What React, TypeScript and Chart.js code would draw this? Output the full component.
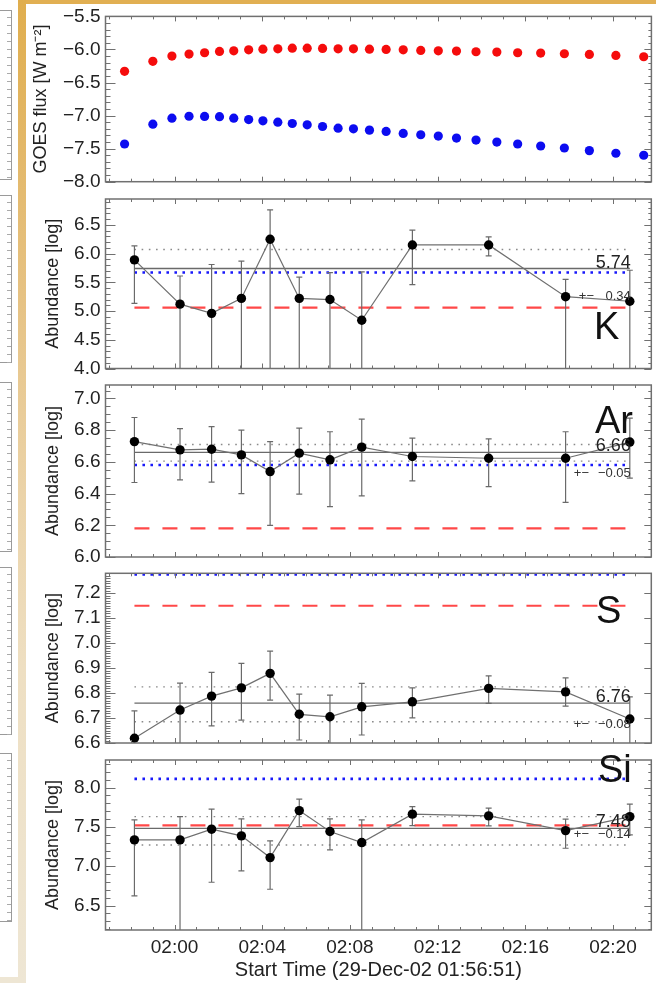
import React, { useEffect, useRef } from 'react';
import { Chart, registerables } from 'chart.js';

Chart.register(...registerables);

const FONT = '"Liberation Sans", Arial, Helvetica, sans-serif';
const W = 656;
const H = 983;

// ---------------- data ----------------
// time axis: minutes after 02:00 UT (start 01:56:51)
const xTickValues = [0, 4, 8, 12, 16, 20];
const xTickLabels = ['02:00', '02:04', '02:08', '02:12', '02:16', '02:20'];
const xTitle = 'Start Time (29-Dec-02 01:56:51)';

const goesTime = [-2.28, -0.99, -0.12, 0.66, 1.37, 2.05, 2.7, 3.38, 4.03, 4.71, 5.37, 6.05, 6.75, 7.46, 8.16, 8.89, 9.65, 10.43, 11.23, 12.03, 12.86, 13.75, 14.7, 15.65, 16.7, 17.78, 18.92, 20.13, 21.4];
const goesLong = [-6.33, -6.18, -6.1, -6.07, -6.05, -6.03, -6.02, -6.005, -5.995, -5.99, -5.98, -5.98, -5.985, -5.99, -5.99, -5.995, -6.0, -6.005, -6.015, -6.02, -6.025, -6.035, -6.04, -6.05, -6.055, -6.065, -6.075, -6.09, -6.11];
const goesShort = [-7.43, -7.13, -7.04, -7.01, -7.013, -7.017, -7.04, -7.06, -7.08, -7.1, -7.12, -7.14, -7.165, -7.19, -7.2, -7.22, -7.24, -7.27, -7.29, -7.31, -7.34, -7.37, -7.4, -7.43, -7.46, -7.49, -7.53, -7.57, -7.6];
const goesTicks = [-8.0, -7.5, -7.0, -6.5, -6.0, -5.5];

const obsTime = [-1.83, 0.25, 1.69, 3.05, 4.36, 5.69, 7.09, 8.54, 10.85, 14.33, 17.84, 20.77];

const kAbund = [5.89, 5.12, 4.96, 5.22, 6.25, 5.22, 5.2, 4.84, 6.15, 6.15, 5.25, 5.17];
const kUpper = [6.135, 5.61, 5.81, 5.87, 6.76, 5.59, 5.67, 5.68, 6.41, 6.29, 5.55, 5.71];
const kLower = [5.134, null, null, null, null, null, null, null, 5.46, 5.96, null, null];
const kTicks = [4.0, 4.5, 5.0, 5.5, 6.0, 6.5];

const arAbund = [6.728, 6.676, 6.68, 6.644, 6.539, 6.655, 6.613, 6.693, 6.634, 6.623, 6.623, 6.725];
const arUpper = [6.88, 6.81, 6.823, 6.8, 6.728, 6.813, 6.79, 6.87, 6.75, 6.745, 6.79, 6.876];
const arLower = [6.47, 6.486, 6.472, 6.4, 6.2, 6.396, 6.318, 6.385, 6.48, 6.444, 6.345, 6.497];
const arTicks = [6.0, 6.2, 6.4, 6.6, 6.8, 7.0];

const sAbund = [6.619, 6.732, 6.788, 6.821, 6.879, 6.715, 6.705, 6.745, 6.765, 6.819, 6.805, 6.696];
const sUpper = [6.729, 6.84, 6.883, 6.919, 6.968, 6.796, 6.792, 6.839, 6.821, 6.869, 6.861, 6.785];
const sLower = [6.47, 6.589, 6.669, 6.692, 6.772, 6.612, 6.597, 6.632, 6.701, 6.759, 6.748, 6.584];
const sTicks = [6.6, 6.7, 6.8, 6.9, 7.0, 7.1, 7.2];

const siAbund = [7.335, 7.335, 7.471, 7.386, 7.11, 7.707, 7.441, 7.301, 7.662, 7.64, 7.453, 7.631];
const siUpper = [7.589, 7.631, 7.725, 7.602, 7.322, 7.852, 7.602, 7.589, 7.758, 7.738, 7.598, 7.789];
const siLower = [6.623, null, 6.797, 6.941, 6.708, 7.504, 7.208, null, 7.517, 7.513, 7.229, 7.398];
const siTicks = [6.5, 7.0, 7.5, 8.0];

const elements = ['K', 'Ar', 'S', 'Si'];
const meanAbund = [5.74, 6.66, 6.76, 7.48];
const meanUpper = [6.07, 6.71, 6.825, 7.63];
const meanLower = [null, 6.605, 6.685, 7.27];
const meanErrText = ['0.34', '\u22120.05', '\u22120.08', '\u22120.14'];
const photAbund = [5.06, 6.18, 7.15, 7.52]; // red dashed
const coronalAbund = [5.67, 6.58, 7.275, 8.11]; // blue dotted

// ---------------- layout ----------------
const X_MIN = -3.15;
const X_MAX = 21.75;
const PLOT_LEFT = 105.5;
const PLOT_RIGHT = 654;

type Bars = { x: number[]; hi: number[]; lo: (number | null)[] };
type Labels = { el: string; mean: number; err: string; elX: number; elDy: number; errDy: number; pmX: number };
type PanelCfg = {
  top: number; bottom: number;
  yMin: number; yMax: number; major: number; minor: number; rightMinor: boolean;
  ticks: number[]; title: string; titleLeft: number; last: boolean;
  datasets: any[]; bars?: Bars; labels?: Labels;
};

const fmt = (v: number) => (v < 0 ? '\u2212' : '') + Math.abs(v).toFixed(1);

function refLine(y: number, color: string, width: number, dash: number[]) {
  return {
    data: [{ x: obsTime[0], y }, { x: obsTime[obsTime.length - 1], y }],
    borderColor: color, borderWidth: width, borderDash: dash,
    pointRadius: 0, pointHitRadius: 0, fill: false, tension: 0,
  };
}

function abundDatasets(i: number, vals: number[]) {
  const ds: any[] = [
    {
      data: obsTime.map((t, j) => ({ x: t, y: vals[j] })),
      borderColor: '#707070', borderWidth: 1.2, tension: 0, fill: false,
      pointRadius: 4.7, pointBackgroundColor: '#000', pointBorderWidth: 0,
    },
    refLine(meanAbund[i], '#6a6a6a', 1.3, []),
    refLine(meanUpper[i], '#8a8a8a', 1.4, [1.6, 5.6]),
  ];
  const lo = meanLower[i];
  if (lo !== null) ds.push(refLine(lo, '#8a8a8a', 1.4, [1.6, 5.6]));
  ds.push(refLine(coronalAbund[i], 'rgb(25,25,250)', 2.6, [2.6, 5.4]));
  ds.push(refLine(photAbund[i], 'rgb(255,72,72)', 2.2, [15, 13]));
  return ds;
}

const panels: PanelCfg[] = [
  {
    top: 12.9, bottom: 181.7, yMin: -8.0, yMax: -5.5, major: 0.5, minor: 0.1, rightMinor: true,
    ticks: goesTicks, title: 'GOES flux [W m\u207B\u00B2]', titleLeft: 30, last: false,
    datasets: [
      { data: goesTime.map((t, j) => ({ x: t, y: goesLong[j] })), showLine: false, pointRadius: 4.6, pointBackgroundColor: 'rgb(245,12,12)', pointBorderWidth: 0 },
      { data: goesTime.map((t, j) => ({ x: t, y: goesShort[j] })), showLine: false, pointRadius: 4.6, pointBackgroundColor: 'rgb(12,12,240)', pointBorderWidth: 0 },
    ],
  },
  {
    top: 199, bottom: 368.5, yMin: 4.0, yMax: 6.95, major: 0.5, minor: 0.1, rightMinor: true,
    ticks: kTicks, title: 'Abundance [log]', titleLeft: 42, last: false,
    datasets: abundDatasets(0, kAbund),
    bars: { x: obsTime, hi: kUpper, lo: kLower },
    labels: { el: elements[0], mean: meanAbund[0], err: meanErrText[0], elX: 594, elDy: 140, errDy: 31, pmX: 52 },
  },
  {
    top: 385, bottom: 557, yMin: 6.0, yMax: 7.085, major: 0.2, minor: 0.05, rightMinor: true,
    ticks: arTicks, title: 'Abundance [log]', titleLeft: 42, last: false,
    datasets: abundDatasets(1, arAbund),
    bars: { x: obsTime, hi: arUpper, lo: arLower },
    labels: { el: elements[1], mean: meanAbund[1], err: meanErrText[1], elX: 595, elDy: 48, errDy: 25, pmX: 57 },
  },
  {
    top: 573.3, bottom: 743, yMin: 6.6, yMax: 7.28, major: 0.1, minor: 0.01, rightMinor: false,
    ticks: sTicks, title: 'Abundance [log]', titleLeft: 42, last: false,
    datasets: abundDatasets(2, sAbund),
    bars: { x: obsTime, hi: sUpper, lo: sLower },
    labels: { el: elements[2], mean: meanAbund[2], err: meanErrText[2], elX: 596, elDy: 50, errDy: 25, pmX: 57 },
  },
  {
    top: 760, bottom: 930, yMin: 6.19, yMax: 8.35, major: 0.5, minor: 0.1, rightMinor: true,
    ticks: siTicks, title: 'Abundance [log]', titleLeft: 42, last: true,
    datasets: abundDatasets(3, siAbund),
    bars: { x: obsTime, hi: siUpper, lo: siLower },
    labels: { el: elements[3], mean: meanAbund[3], err: meanErrText[3], elX: 598, elDy: 22, errDy: 10, pmX: 57 },
  },
];

function makeDecor(p: PanelCfg) {
  return {
    id: 'panelDecor',
    beforeDatasetDraw(chart: any, args: any) {
      if (args.index !== 0 || !p.bars) return;
      const { ctx, chartArea: a } = chart;
      const xs = chart.scales.x;
      const ys = chart.scales.y;
      ctx.save();
      ctx.beginPath();
      ctx.rect(a.left, a.top, a.right - a.left, a.bottom - a.top);
      ctx.clip();
      ctx.strokeStyle = '#6a6a6a';
      ctx.lineWidth = 1.2;
      p.bars.x.forEach((t, j) => {
        const px = xs.getPixelForValue(t);
        const pHi = ys.getPixelForValue(p.bars!.hi[j]);
        const lo = p.bars!.lo[j];
        const pLo = lo === null ? a.bottom + 4 : ys.getPixelForValue(lo);
        ctx.beginPath();
        ctx.moveTo(px, pHi); ctx.lineTo(px, pLo);
        ctx.moveTo(px - 3, pHi); ctx.lineTo(px + 3, pHi);
        if (lo !== null) { ctx.moveTo(px - 3, pLo); ctx.lineTo(px + 3, pLo); }
        ctx.stroke();
      });
      ctx.restore();
    },
    afterDatasetsDraw(chart: any) {
      const { ctx, chartArea: a } = chart;
      const xs = chart.scales.x;
      const ys = chart.scales.y;
      ctx.save();
      // frame
      ctx.strokeStyle = '#707070';
      ctx.lineWidth = 1.5;
      ctx.strokeRect(a.left, a.top, a.right - a.left, a.bottom - a.top);
      // ticks
      ctx.lineWidth = 1;
      ctx.strokeStyle = '#707070';
      ctx.beginPath();
      for (let m = Math.ceil(X_MIN); m <= X_MAX; m++) {
        const px = Math.round(xs.getPixelForValue(m)) + 0.5;
        const len = m % 4 === 0 ? 5 : 3;
        ctx.moveTo(px, a.bottom); ctx.lineTo(px, a.bottom - len);
        ctx.moveTo(px, a.top); ctx.lineTo(px, a.top + len);
      }
      const n0 = Math.ceil(p.yMin / p.minor - 1e-6);
      const n1 = Math.floor(p.yMax / p.minor + 1e-6);
      for (let n = n0; n <= n1; n++) {
        const v = n * p.minor;
        const r = v / p.major;
        const isMajor = Math.abs(r - Math.round(r)) < 1e-6;
        const py = Math.round(ys.getPixelForValue(v)) + 0.5;
        ctx.moveTo(a.left, py); ctx.lineTo(a.left + (isMajor ? 10 : 5), py);
        if (isMajor || p.rightMinor) { ctx.moveTo(a.right, py); ctx.lineTo(a.right - (isMajor ? 7 : 3), py); }
      }
      ctx.stroke();
      // texts
      if (p.labels) {
        const L = p.labels;
        const lastX = xs.getPixelForValue(obsTime[obsTime.length - 1]) + 1;
        const meanY = ys.getPixelForValue(L.mean);
        ctx.textBaseline = 'alphabetic';
        ctx.fillStyle = '#111';
        ctx.textAlign = 'left';
        ctx.font = `38px ${FONT}`;
        ctx.fillText(L.el, L.elX, a.top + L.elDy);
        ctx.fillStyle = '#222';
        ctx.textAlign = 'right';
        ctx.font = `18px ${FONT}`;
        ctx.fillText(L.mean.toFixed(2), lastX, meanY - 1);
        ctx.font = `13px ${FONT}`;
        ctx.fillStyle = '#333';
        ctx.fillText(L.err, lastX, meanY + L.errDy);
        ctx.textAlign = 'left';
        ctx.fillText('+\u2212', lastX - L.pmX, meanY + L.errDy);
      }
      ctx.restore();
    },
  };
}

function buildConfig(p: PanelCfg): any {
  return {
    type: 'line',
    data: { datasets: p.datasets },
    options: {
      animation: false,
      responsive: false,
      maintainAspectRatio: false,
      devicePixelRatio: 1,
      events: [],
      layout: {
        padding: { left: p.titleLeft, right: W - PLOT_RIGHT, top: p.top, bottom: p.last ? 0 : H - p.bottom },
      },
      plugins: { legend: { display: false }, tooltip: { enabled: false } },
      scales: {
        x: {
          type: 'linear', min: X_MIN, max: X_MAX, display: p.last,
          afterBuildTicks: (s: any) => { s.ticks = xTickValues.map((v) => ({ value: v })); },
          afterFit: (s: any) => { s.height = p.last ? H - p.bottom : 0; },
          grid: { display: false, drawTicks: false },
          border: { display: false },
          ticks: {
            font: { family: FONT, size: 19 }, color: '#222', padding: 6, maxRotation: 0, autoSkip: false,
            callback: (_v: any, i: number) => xTickLabels[i],
          },
          title: { display: true, text: xTitle, font: { family: FONT, size: 20 }, color: '#222', padding: { top: 0, bottom: 1 } },
        },
        y: {
          type: 'linear', min: p.yMin, max: p.yMax, position: 'left',
          afterBuildTicks: (s: any) => { s.ticks = p.ticks.map((v) => ({ value: v })); },
          afterFit: (s: any) => { s.width = PLOT_LEFT - p.titleLeft; },
          grid: { display: false, drawTicks: false },
          border: { display: false },
          ticks: {
            font: { family: FONT, size: 19 }, color: '#222', padding: 5, autoSkip: false,
            callback: (v: any) => fmt(Number(v)),
          },
          title: { display: true, text: p.title, font: { family: FONT, size: 18 }, color: '#222', padding: { top: 0, bottom: 0 } },
        },
      },
    },
    plugins: [makeDecor(p)],
  };
}

function PanelChart({ cfg }: { cfg: PanelCfg }) {
  const ref = useRef<HTMLCanvasElement>(null);
  useEffect(() => {
    if (!ref.current) return;
    const chart = new Chart(ref.current, buildConfig(cfg));
    return () => chart.destroy();
  }, [cfg]);
  return <canvas ref={ref} width={W} height={H} style={{ position: 'absolute', left: 0, top: 0, width: W, height: H }} />;
}

const stripBoxes = [[10, 180], [195, 363], [381.7, 551.7], [566.7, 735], [753, 921.7]];

export default function App() {
  return (
    <div style={{ position: 'fixed', left: 0, top: 0, width: W, height: H, background: '#fff', overflow: 'hidden' }}>
      <div style={{ position: 'absolute', left: 18, top: 0, width: W - 18, height: 4, background: '#E1AF52' }} />
      <div
        style={{
          position: 'absolute', left: 18, top: 0, width: 8, height: H,
          background: 'linear-gradient(to bottom, #E0AE4E 0%, #E6C283 30%, #EBD3A8 50%, #EEDFC2 68%, #EEE6D4 100%)',
        }}
      />
      <div style={{ position: 'absolute', left: 0, top: 977, width: 26, height: 6, background: '#EEE6D4' }} />
      {stripBoxes.map(([t, b], i) => (
        <React.Fragment key={i}>
          <div style={{ position: 'absolute', left: -2, top: t, width: 14, height: b - t, border: '1px solid #9a9a9a', boxSizing: 'border-box' }} />
          <div
            style={{
              position: 'absolute', left: 7, top: t, width: 4, height: b - t,
              background: 'repeating-linear-gradient(to bottom, transparent 0px, transparent 7px, #aaa 7px, #aaa 8px)',
            }}
          />
        </React.Fragment>
      ))}
      {panels.map((p, i) => (
        <PanelChart key={i} cfg={p} />
      ))}
    </div>
  );
}
